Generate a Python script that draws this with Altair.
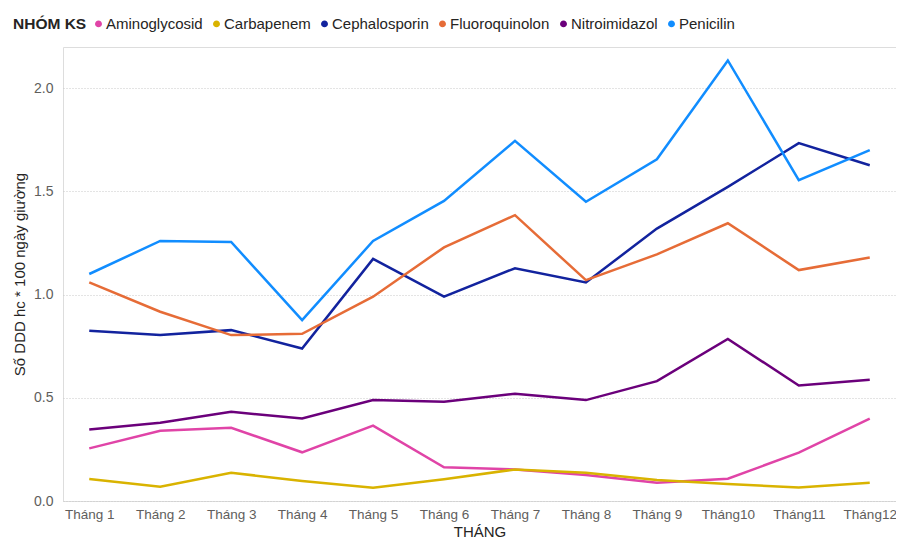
import altair as alt
import pandas as pd

months = ["Tháng 1", "Tháng 2", "Tháng 3", "Tháng 4", "Tháng 5", "Tháng 6",
          "Tháng 7", "Tháng 8", "Tháng 9", "Tháng10", "Tháng11", "Tháng12"]

groups = ["Aminoglycosid", "Carbapenem", "Cephalosporin", "Fluoroquinolon",
          "Nitroimidazol", "Penicilin"]
colors = ["#E044A7", "#D9B300", "#12239E", "#E66C37", "#6B007B", "#118DFF"]

aminoglycosid = [0.255, 0.34, 0.355, 0.236, 0.365, 0.163, 0.153, 0.126, 0.089, 0.108, 0.234, 0.399]
carbapenem = [0.107, 0.069, 0.137, 0.097, 0.064, 0.105, 0.153, 0.137, 0.102, 0.082, 0.066, 0.089]
cephalosporin = [0.825, 0.805, 0.828, 0.739, 1.173, 0.99, 1.128, 1.059, 1.32, 1.522, 1.734, 1.627]
fluoroquinolon = [1.059, 0.917, 0.804, 0.81, 0.99, 1.229, 1.385, 1.07, 1.195, 1.346, 1.119, 1.18]
nitroimidazol = [0.347, 0.379, 0.432, 0.40, 0.489, 0.481, 0.52, 0.489, 0.581, 0.785, 0.56, 0.587]
penicilin = [1.10, 1.26, 1.255, 0.877, 1.26, 1.454, 1.745, 1.45, 1.656, 2.135, 1.555, 1.70]

series = [aminoglycosid, carbapenem, cephalosporin, fluoroquinolon, nitroimidazol, penicilin]

rows = []
for g, vals in zip(groups, series):
    for m, v in zip(months, vals):
        rows.append({"THÁNG": m, "NHÓM KS": g, "value": v})
df = pd.DataFrame(rows)

FONT = "Liberation Sans"
W, H = 833, 454

chart = alt.Chart(df).mark_line(strokeWidth=2.5).encode(
    x=alt.X("THÁNG:N", sort=months,
            scale=alt.Scale(type="point", padding=0.37),
            axis=alt.Axis(title="THÁNG", labelAngle=0, labelFontSize=13.5,
                          labelColor="#605E5C", labelPadding=6, domain=False,
                          ticks=False, grid=False, titleFontSize=15,
                          titleFontWeight="normal", titleColor="#252423",
                          titleY=30, titleBaseline="middle")),
    y=alt.Y("value:Q", scale=alt.Scale(domain=[0, 2.2], nice=False),
            axis=alt.Axis(title="Số DDD hc * 100 ngày giường", values=[0, 0.5, 1, 1.5, 2],
                          format=".1f", labelFontSize=14, labelColor="#605E5C",
                          labelPadding=10, domain=False, ticks=False,
                          gridColor="#C8C8C8", gridDash=[1, 2], gridWidth=1,
                          titleFontSize=15, titleFontWeight="normal",
                          titleColor="#252423", titleX=-44, titleY=H / 2,
                          titleAngle=270, titleBaseline="middle", titleAlign="center")),
    color=alt.Color("NHÓM KS:N", sort=groups,
                    scale=alt.Scale(domain=groups, range=colors),
                    legend=alt.Legend(orient="none", direction="horizontal",
                                      legendX=-50, legendY=-31, titleOrient="left",
                                      titleFontSize=15.5, titleFontWeight="bold",
                                      titleColor="#252423", titlePadding=4,
                                      labelFontSize=15, labelColor="#252423",
                                      symbolType="circle", symbolSize=12,
                                      symbolStrokeWidth=3.5, labelOffset=0,
                                      columnPadding=4, labelLimit=300,
                                      columns=6)),
).properties(
    width=W, height=H,
    autosize=alt.AutoSizeParams(type="none"),
    padding={"left": 55, "top": 39, "right": 0, "bottom": 37},
).configure_view(stroke=None).configure(font=FONT)

chart.save("out.html", embed_options={"renderer": "svg", "actions": False})
